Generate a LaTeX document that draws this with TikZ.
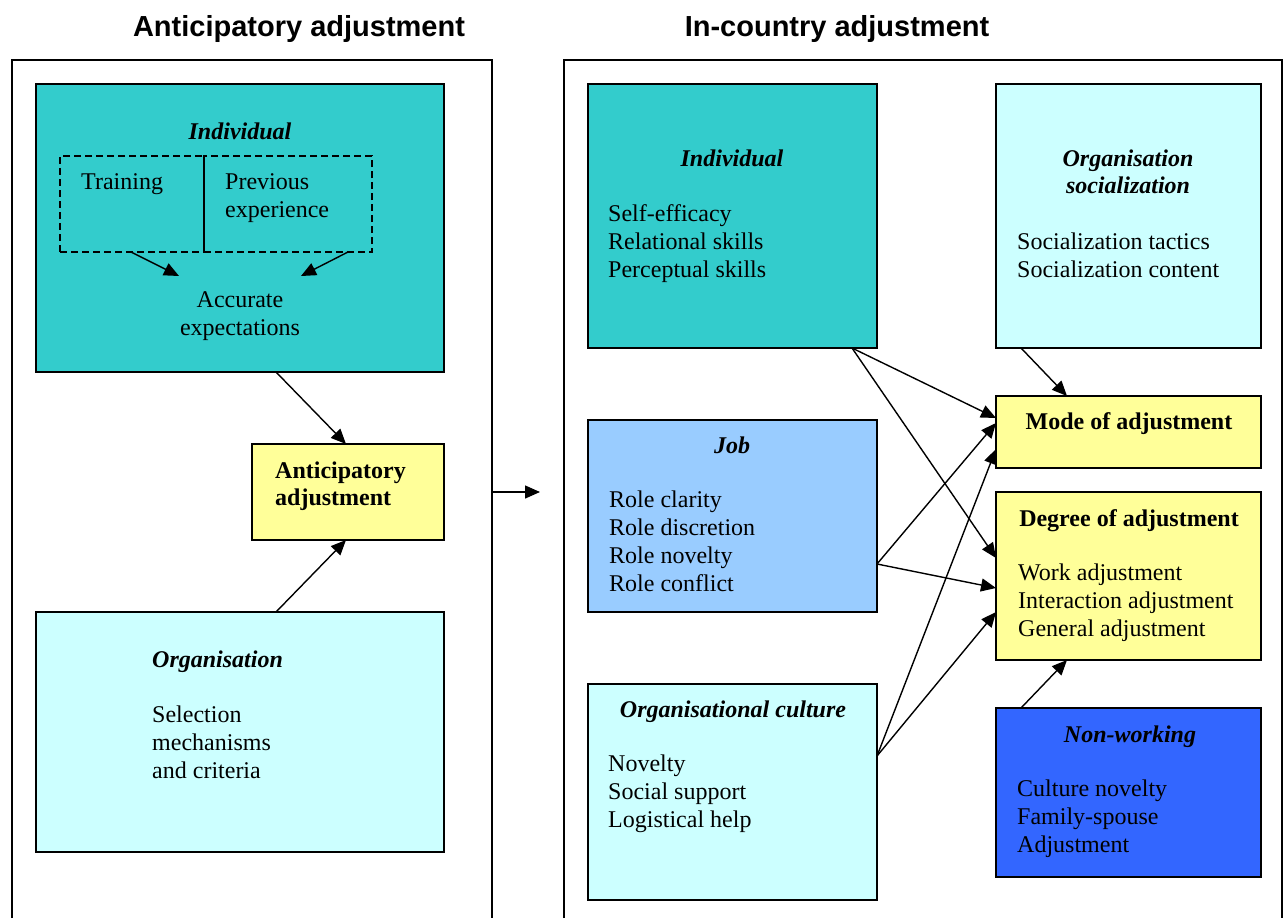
\documentclass[tikz,border=0pt]{standalone}
\usepackage{fontspec}
\setmainfont{Liberation Serif}
\newfontfamily\titlefont{Liberation Sans}
\usetikzlibrary{arrows.meta}
\definecolor{tealA}{HTML}{33CCCC}
\definecolor{cyanA}{HTML}{CCFFFF}
\definecolor{yellowA}{HTML}{FFFF99}
\definecolor{blueA}{HTML}{99CCFF}
\definecolor{blueB}{HTML}{3366FF}
\newcommand\leftlines[1]{\begin{tabular}[t]{@{}l@{}}#1\end{tabular}}
\newcommand\midlines[1]{\begin{tabular}[t]{@{}c@{}}#1\end{tabular}}
\tikzset{
  box/.style={draw=black, line width=1.5pt, anchor=north west, inner sep=0pt, outer sep=0pt},
  framebox/.style={anchor=north west, inner sep=0pt, outer sep=0pt},
  framepath/.style={line width=1.3pt},
  dbox/.style={draw=black, dash pattern=on 7pt off 4pt, line width=1.4pt, anchor=north west, inner sep=0pt, outer sep=0pt},
  head/.style={anchor=base, inner sep=0pt, font=\fontsize{24}{27}\selectfont\bfseries\itshape},
  bhead/.style={anchor=base, inner sep=0pt, font=\fontsize{24}{27}\selectfont\bfseries},
  body/.style={anchor=base west, inner sep=0pt},
  cbody/.style={anchor=base, inner sep=0pt},
  title/.style={anchor=base, inner sep=0pt, font=\titlefont\fontsize{29}{34}\selectfont\bfseries},
  arr/.style={-{Triangle[length=15pt,width=13pt]}, line width=1.4pt},
}
\begin{document}
\begin{tikzpicture}[x=1pt, y=-1pt, font=\fontsize{24}{28}\selectfont]
\fill[white] (0,0) rectangle (1287,918);
\useasboundingbox (0,0) rectangle (1287,918);

% titles
\node[title] (t1) at (299,36) {Anticipatory adjustment};
\node[title] (t2) at (837,36) {In-country adjustment};

% frames
\node[framebox, minimum width=480pt, minimum height=858pt] (frameL) at (12,60) {};
\draw[framepath] (frameL.south west) -- (frameL.north west) -- (frameL.north east) -- (frameL.south east);
\node[framebox, minimum width=718pt, minimum height=858pt] (frameR) at (564,60) {};
\draw[framepath] (frameR.south west) -- (frameR.north west) -- (frameR.north east) -- (frameR.south east);

% ---------- left side ----------
\node[box, fill=tealA, minimum width=408pt, minimum height=288pt] (indL) at (36,84) {};
\node[head] (indLh) at (240,139) {Individual};
\node[dbox, minimum width=144pt, minimum height=96pt] (train) at (60,156) {};
\node[dbox, minimum width=168pt, minimum height=96pt] (prev) at (204,156) {};
\node[body] (trainT) at (81,189) {Training};
\node[body] (prevT) at (225,189) {\leftlines{Previous\\experience}};
\node[cbody] (acc) at (240,307) {\midlines{Accurate\\expectations}};
\coordinate (accL) at (179,276);
\coordinate (accR) at (301,276);
\draw[arr] ([xshift=71pt]train.south west) -- (accL);
\draw[arr] ([xshift=-24pt]prev.south east) -- (accR);

\node[box, fill=yellowA, minimum width=192pt, minimum height=96pt] (aa) at (252,444) {};
\node[body, font=\fontsize{24}{27}\selectfont\bfseries] (aaT) at (275,478) {\leftlines{Anticipatory\\adjustment}};

\node[box, fill=cyanA, minimum width=408pt, minimum height=240pt] (orgL) at (36,612) {};
\node[body, font=\fontsize{24}{28}\selectfont\bfseries\itshape] (orgLh) at (152,667) {Organisation};
\node[body] (orgLb) at (152,722) {\leftlines{Selection\\mechanisms\\and criteria}};

\draw[arr] ([xshift=-168pt]indL.south east) -- ([xshift=94pt]aa.north west);
\draw[arr] ([xshift=240pt]orgL.north west) -- ([xshift=94pt]aa.south west);

% transition arrow
\coordinate (trans) at (540,492);
\draw[arr] (frameL.east |- aa.center) -- (trans);

% ---------- right side ----------
\node[box, fill=tealA, minimum width=289pt, minimum height=264pt] (indR) at (588,84) {};
\node[head] (indRh) at (732,166) {Individual};
\node[body] (indRb) at (608,221) {\leftlines{Self-efficacy\\Relational skills\\Perceptual skills}};

\node[box, fill=cyanA, minimum width=265pt, minimum height=264pt] (orgs) at (996,84) {};
\node[head] (orgsh) at (1128,166) {\midlines{Organisation\\socialization}};
\node[body] (orgsb) at (1017,249) {\leftlines{Socialization tactics\\Socialization content}};

\node[box, fill=yellowA, minimum width=265pt, minimum height=72pt] (mode) at (996,396) {};
\node[bhead] (modeh) at (1129,429) {Mode of adjustment};

\node[box, fill=blueA, minimum width=289pt, minimum height=192pt] (job) at (588,420) {};
\node[head] (jobh) at (732,453) {Job};
\node[body] (jobb) at (609,507) {\leftlines{Role clarity\\Role discretion\\Role novelty\\Role conflict}};

\node[box, fill=yellowA, minimum width=265pt, minimum height=168pt] (deg) at (996,492) {};
\node[bhead] (degh) at (1129,526) {Degree of adjustment};
\node[body] (degb) at (1018,580) {\leftlines{Work adjustment\\Interaction adjustment\\General adjustment}};

\node[box, fill=cyanA, minimum width=289pt, minimum height=216pt] (cul) at (588,684) {};
\node[head] (culh) at (733,717) {Organisational culture};
\node[body] (culb) at (608,771) {\leftlines{Novelty\\Social support\\Logistical help}};

\node[box, fill=blueB, minimum width=265pt, minimum height=169pt] (nonw) at (996,708) {};
\node[head] (nonwh) at (1130,742) {Non-working};
\node[body] (nonwb) at (1017,796) {\leftlines{Culture novelty\\Family-spouse\\Adjustment}};

% connectors
\draw[arr] ([xshift=-25pt]indR.south east) -- ([yshift=-22pt]mode.north west);
\draw[arr] ([xshift=-25pt]indR.south east) -- ([yshift=-66pt]deg.north west);
\draw[arr] ([yshift=48pt]job.south east) -- ([yshift=-27pt]mode.north west);
\draw[arr] ([yshift=48pt]job.south east) -- ([yshift=-96pt]deg.north west);
\draw[arr] ([yshift=-72pt]cul.north east) -- ([yshift=-53pt]mode.north west);
\draw[arr] ([yshift=-72pt]cul.north east) -- ([yshift=-120pt]deg.north west);
\draw[arr] ([xshift=25pt]orgs.south west) -- ([xshift=71pt]mode.north west);
\draw[arr] ([xshift=25pt]nonw.north west) -- ([xshift=71pt]deg.south west);
\end{tikzpicture}
\end{document}
